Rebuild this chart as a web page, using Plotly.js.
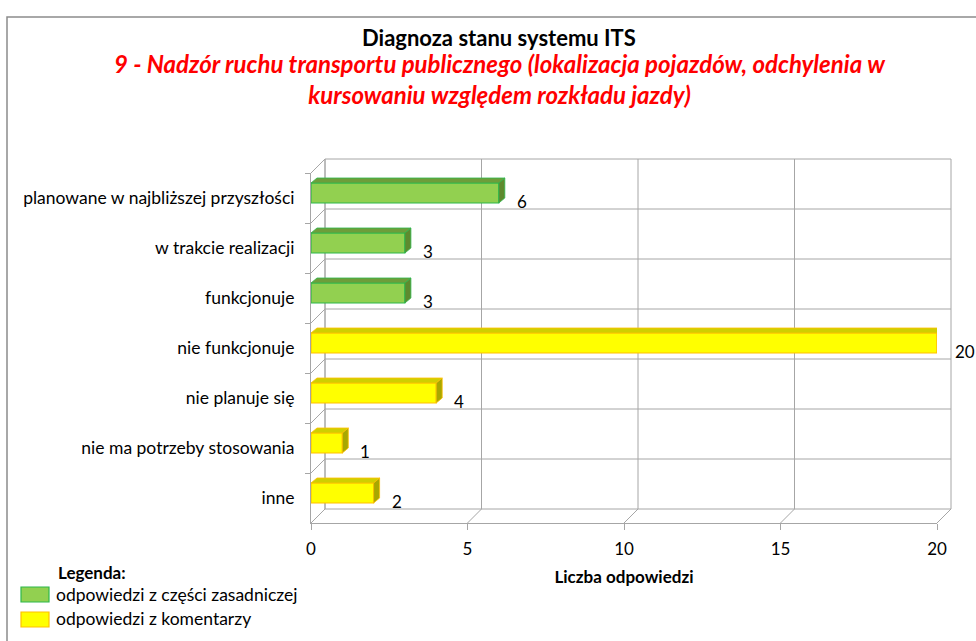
<!DOCTYPE html>
<html>
<head>
<meta charset="utf-8">
<script src="https://cdn.plot.ly/plotly-3.0.1.min.js"></script>
<style>html,body{margin:0;padding:0;background:#fff;}#chart{width:976px;height:641px;}</style>
</head>
<body>
<div id="chart"></div>
<script>
// ---- data ----
const categories = ['planowane w najbliższej przyszłości', 'w trakcie realizacji', 'funkcjonuje', 'nie funkcjonuje', 'nie planuje się', 'nie ma potrzeby stosowania', 'inne'];
const mainValues = [6, 3, 3, null, null, null, null];
const commentValues = [null, null, null, 20, 4, 1, 2];
const seriesNames = ['odpowiedzi z części zasadniczej', 'odpowiedzi z komentarzy'];
const xTicks = [0, 5, 10, 15, 20];
const titleText = 'Diagnoza stanu systemu ITS';
const subtitleText = '9 - Nadzór ruchu transportu publicznego (lokalizacja pojazdów, odchylenia w<br>kursowaniu względem rozkładu jazdy)';
const xTitle = 'Liczba odpowiedzi';
const legendTitle = 'Legenda:';

// ---- layout geometry ----
const W = 976, H = 641;
const L = 311, R = 937, T = 173, B = 523;
const pw = R - L, ph = B - T;
const xMax = 20;
const px = p => (p - L) / pw;     // pixel -> paper x
const py = p => (B - p) / ph;     // pixel -> paper y
const depthX = 14 / pw, depthY = 14 / ph;
const FONT = 'Lato, "Open Sans", sans-serif';
const gridColor = '#a6a6a6';

const styles = [
  {fill: '#92D050', line: '#2DB84B', top: '#6E9D3A', side: '#5E8A2E'},
  {fill: '#FFFF00', line: '#FFC000', top: '#CFCF00', side: '#A8A800'}
];

const barWidth = 0.4, barOffset = -0.3;
const seriesValues = [mainValues, commentValues];
const traces = seriesValues.map((vals, s) => ({
  type: 'bar', orientation: 'h', name: seriesNames[s],
  y: categories, x: vals,
  width: barWidth, offset: barOffset,
  marker: {color: styles[s].fill, line: {color: styles[s].line, width: 1.2}},
  hoverinfo: 'x+y', showlegend: false
}));

const shapes = [];
const line = (x0, y0, x1, y1, color, w) => shapes.push({type: 'line', xref: 'paper', yref: 'paper', x0, y0, x1, y1, layer: 'below', line: {color: color || gridColor, width: w || 1}});

// back wall verticals and floor diagonals
xTicks.forEach(v => {
  const f = v / xMax;
  line(f + depthX, depthY, f + depthX, 1 + depthY);
  line(f, 0, f + depthX, depthY);
});
// back wall horizontals and left wall diagonals
for (let k = 0; k <= categories.length; k++) {
  const f = k / categories.length;
  line(depthX, f + depthY, 1 + depthX, f + depthY);
  line(0, f, depthX, f + depthY);
}
line(depthX, depthY, depthX, 1 + depthY);

// 3D faces of bars and value labels, computed from the data
const dxU = 6 / (pw / xMax), dyU = 5 / (ph / categories.length);
const valueLabels = [];
seriesValues.forEach((vals, s) => {
  vals.forEach((v, i) => {
    if (v == null) return;
    const yt = i + barOffset, yb = i + barOffset + barWidth;
    shapes.push({type: 'path', xref: 'x', yref: 'y', layer: 'above',
      path: `M0,${yt} L${v},${yt} L${v + dxU},${yt - dyU} L${dxU},${yt - dyU} Z`,
      fillcolor: styles[s].top, line: {color: styles[s].line, width: 0.8}});
    shapes.push({type: 'path', xref: 'x', yref: 'y', layer: 'above',
      path: `M${v},${yt} L${v + dxU},${yt - dyU} L${v + dxU},${yb - dyU} L${v},${yb} Z`,
      fillcolor: styles[s].side, line: {color: styles[s].line, width: 0.8}});
    valueLabels.push({text: String(v), x: v, y: categories[i], xref: 'x', yref: 'y', showarrow: false,
      xanchor: 'left', yanchor: 'middle', xshift: 16, yshift: -3,
      font: {family: FONT, size: 17, color: '#000'}});
  });
});

// outer border
shapes.push({type: 'rect', xref: 'paper', yref: 'paper', x0: px(7), x1: px(W + 20), y0: py(H + 20), y1: py(17), layer: 'below', line: {color: '#8c8c8c', width: 1.5}, fillcolor: 'rgba(0,0,0,0)'});

// legend swatches
shapes.push({type: 'rect', xref: 'paper', yref: 'paper', x0: px(21), x1: px(49), y0: py(602), y1: py(587), line: {color: styles[0].line, width: 1.2}, fillcolor: styles[0].fill});
shapes.push({type: 'rect', xref: 'paper', yref: 'paper', x0: px(21), x1: px(49), y0: py(627), y1: py(612), line: {color: styles[1].line, width: 1.2}, fillcolor: styles[1].fill});

const annotations = [
  {text: '<b>' + titleText + '</b>', x: px(499), y: py(37), xref: 'paper', yref: 'paper', showarrow: false, xanchor: 'center', yanchor: 'middle', font: {family: FONT, size: 22, color: '#000'}},
  {text: '<b><i>' + subtitleText + '</i></b>', x: px(500), y: py(79), xref: 'paper', yref: 'paper', showarrow: false, xanchor: 'center', yanchor: 'middle', font: {family: FONT, size: 24, color: '#FF0000'}},
  {text: '<b>' + legendTitle + '</b>', x: px(56), y: py(572), xref: 'paper', yref: 'paper', showarrow: false, xanchor: 'left', yanchor: 'middle', font: {family: FONT, size: 17, color: '#000'}},
  {text: seriesNames[0], x: px(54), y: py(594), xref: 'paper', yref: 'paper', showarrow: false, xanchor: 'left', yanchor: 'middle', font: {family: FONT, size: 17.5, color: '#000'}},
  {text: seriesNames[1], x: px(54), y: py(618), xref: 'paper', yref: 'paper', showarrow: false, xanchor: 'left', yanchor: 'middle', font: {family: FONT, size: 17.5, color: '#000'}}
].concat(valueLabels);

const layout = {
  width: W, height: H,
  margin: {l: L, r: W - R, t: T, b: H - B, pad: 0},
  paper_bgcolor: '#fff', plot_bgcolor: 'rgba(0,0,0,0)',
  barmode: 'overlay', showlegend: false,
  font: {family: FONT, size: 17, color: '#000'},
  xaxis: {range: [0, xMax], tickvals: xTicks, showgrid: false, zeroline: false,
    showline: true, linecolor: gridColor, ticks: 'outside', ticklen: 6, tickcolor: gridColor,
    ticklabelstandoff: 5,
    tickfont: {family: FONT, size: 17}, fixedrange: true,
    title: {text: '<b>' + xTitle + '</b>', font: {family: FONT, size: 17}, standoff: 12}},
  yaxis: {type: 'category', categoryorder: 'array', categoryarray: categories, autorange: 'reversed',
    range: [categories.length - 0.5, -0.5],
    showgrid: false, zeroline: false, showline: true, linecolor: gridColor,
    ticks: 'outside', ticklen: 5, tickcolor: gridColor, tickson: 'boundaries',
    ticklabelstandoff: 12, tickfont: {family: FONT, size: 17.5}, fixedrange: true},
  shapes, annotations
};

Plotly.newPlot('chart', traces, layout, {displayModeBar: false, staticPlot: true});
</script>
</body>
</html>
